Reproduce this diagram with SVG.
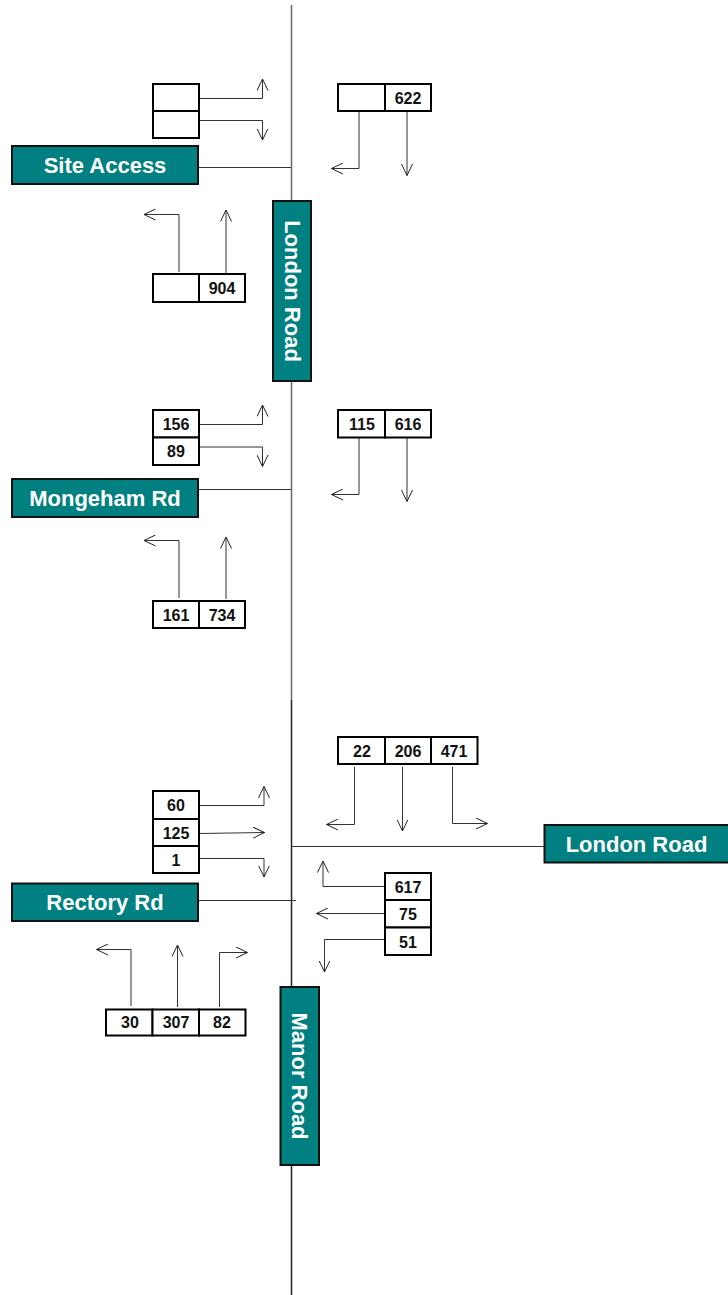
<svg xmlns="http://www.w3.org/2000/svg" width="728" height="1295" viewBox="0 0 728 1295">
<defs>
<marker id="ah" viewBox="0 0 12 12" refX="11.5" refY="6" markerWidth="12" markerHeight="12" markerUnits="userSpaceOnUse" orient="auto">
<path d="M0,0.5 L11.5,6 L0,11.5" fill="none" stroke="#222" stroke-width="1"/>
</marker>
<style>
.road{fill:#008080;stroke:#111;stroke-width:2}
.rt{font-family:"Liberation Sans",Arial,sans-serif;font-weight:bold;font-size:22px;fill:#fff;text-anchor:middle}
.cell{fill:#fff;stroke:#000;stroke-width:2}
.num{font-family:"Liberation Sans",Arial,sans-serif;font-weight:bold;font-size:16px;fill:#111;text-anchor:middle}
.ln{fill:none;stroke:#333;stroke-width:1}
.arr{fill:none;stroke:#333;stroke-width:1;marker-end:url(#ah)}
</style>
</defs>
<rect width="728" height="1295" fill="#fff"/>
<g id="connectors">
<line x1="291.5" y1="5" x2="291.5" y2="700" stroke="#6a6a6a" stroke-width="1.5"/>
<line x1="291.5" y1="700" x2="291.5" y2="1295" stroke="#222" stroke-width="1.5"/>
<line class="ln" x1="198" y1="167.5" x2="291" y2="167.5"/>
<line class="ln" x1="198" y1="489.5" x2="291" y2="489.5"/>
<line class="ln" x1="292" y1="846.5" x2="545" y2="846.5" stroke="#111"/>
<line class="ln" x1="198" y1="900.5" x2="296" y2="900.5" stroke="#111"/>
<!-- top section -->
<path class="arr" d="M199,98.5 H262.5 V79"/>
<path class="arr" d="M199,120.5 H262.5 V140"/>
<path class="arr" d="M359,111 V168.5 H331.5"/>
<path class="arr" d="M407,111 V175.5"/>
<path class="arr" d="M179,272 V214.5 H144"/>
<path class="arr" d="M226,273 V210"/>
<!-- mongeham -->
<path class="arr" d="M199,424.5 H262.5 V405"/>
<path class="arr" d="M199,447 H262.5 V466.5"/>
<path class="arr" d="M359,437 V494.5 H331.5"/>
<path class="arr" d="M407,437 V501.5"/>
<path class="arr" d="M179,598 V540.5 H144"/>
<path class="arr" d="M226,599 V537"/>
<!-- bottom -->
<path class="arr" d="M354.5,767 V824.5 H326.5"/>
<path class="arr" d="M402.5,767 V831"/>
<path class="arr" d="M452.5,767 V823.5 H487.5"/>
<path class="arr" d="M199,805.5 H264 V786.5"/>
<path class="arr" d="M199,833.5 L264.5,832.5"/>
<path class="arr" d="M199,858.5 H264 V877"/>
<path class="arr" d="M385,886.5 H323 V861"/>
<path class="arr" d="M385,913.5 H316.5"/>
<path class="arr" d="M385,939.5 H324.5 V972"/>
<path class="arr" d="M131,1006 V949.5 H96.5"/>
<path class="arr" d="M177.5,1007 V945"/>
<path class="arr" d="M219.5,1007 V952.5 H247.5"/>
</g>
<g id="site-access">
<rect class="road" x="12" y="146" width="186" height="38"/>
<text class="rt" x="105" y="173">Site Access</text>
</g>
<g id="london-road-north">
<rect class="road" x="273" y="201" width="38" height="180"/>
<text class="rt" transform="translate(284.5,291) rotate(90)" x="0" y="0">London Road</text>
</g>
<g id="mongeham-rd">
<rect class="road" x="12" y="479" width="186" height="38"/>
<text class="rt" x="105" y="506">Mongeham Rd</text>
</g>
<g id="london-road-east">
<rect class="road" x="544.5" y="825" width="185" height="37.5"/>
<text class="rt" x="636.5" y="851.5">London Road</text>
</g>
<g id="rectory-rd">
<rect class="road" x="12" y="883.5" width="186" height="37.5"/>
<text class="rt" x="105" y="910">Rectory Rd</text>
</g>
<g id="manor-road">
<rect class="road" x="280.5" y="987" width="38.5" height="178"/>
<text class="rt" transform="translate(292.3,1076) rotate(90)" x="0" y="0">Manor Road</text>
</g>
<!-- count boxes -->
<g id="sa-west">
<rect class="cell" x="153" y="84" width="46" height="27"/>
<rect class="cell" x="153" y="111" width="46" height="27"/>
</g>
<g id="sa-north">
<rect class="cell" x="338" y="84" width="47" height="27"/>
<rect class="cell" x="385" y="84" width="46" height="27"/>
<text class="num" x="408" y="103.5">622</text>
</g>
<g id="sa-south">
<rect class="cell" x="153" y="274" width="46" height="28"/>
<rect class="cell" x="199" y="274" width="46" height="28"/>
<text class="num" x="222" y="294">904</text>
</g>
<g id="mr-west">
<rect class="cell" x="153" y="410" width="46" height="27.5"/>
<rect class="cell" x="153" y="437.5" width="46" height="27.5"/>
<text class="num" x="176" y="430">156</text>
<text class="num" x="176" y="457">89</text>
</g>
<g id="mr-north">
<rect class="cell" x="338" y="410" width="47" height="27.5"/>
<rect class="cell" x="385" y="410" width="46" height="27.5"/>
<text class="num" x="362" y="430">115</text>
<text class="num" x="408" y="430">616</text>
</g>
<g id="mr-south">
<rect class="cell" x="153" y="601" width="46" height="27"/>
<rect class="cell" x="199" y="601" width="46" height="27"/>
<text class="num" x="176" y="620.5">161</text>
<text class="num" x="222" y="620.5">734</text>
</g>
<g id="j3-north">
<rect class="cell" x="338" y="737" width="47" height="27"/>
<rect class="cell" x="385" y="737" width="46" height="27"/>
<rect class="cell" x="431" y="737" width="46.5" height="27"/>
<text class="num" x="362" y="756.5">22</text>
<text class="num" x="408" y="756.5">206</text>
<text class="num" x="454" y="756.5">471</text>
</g>
<g id="j3-west">
<rect class="cell" x="153" y="791" width="46" height="28"/>
<rect class="cell" x="153" y="819" width="46" height="27"/>
<rect class="cell" x="153" y="846" width="46" height="27"/>
<text class="num" x="176" y="811">60</text>
<text class="num" x="176" y="838.5">125</text>
<text class="num" x="176" y="865.5">1</text>
</g>
<g id="j3-east">
<rect class="cell" x="385" y="873" width="46" height="27"/>
<rect class="cell" x="385" y="900" width="46" height="27.5"/>
<rect class="cell" x="385" y="927.5" width="46" height="27.5"/>
<text class="num" x="408" y="892.5">617</text>
<text class="num" x="408" y="919.5">75</text>
<text class="num" x="408" y="947.5">51</text>
</g>
<g id="j3-south">
<rect class="cell" x="106" y="1009.5" width="46.5" height="26"/>
<rect class="cell" x="152.5" y="1009.5" width="46.5" height="26"/>
<rect class="cell" x="199" y="1009.5" width="46.5" height="26"/>
<text class="num" x="130" y="1028">30</text>
<text class="num" x="176" y="1028">307</text>
<text class="num" x="222" y="1028">82</text>
</g>
</svg>
